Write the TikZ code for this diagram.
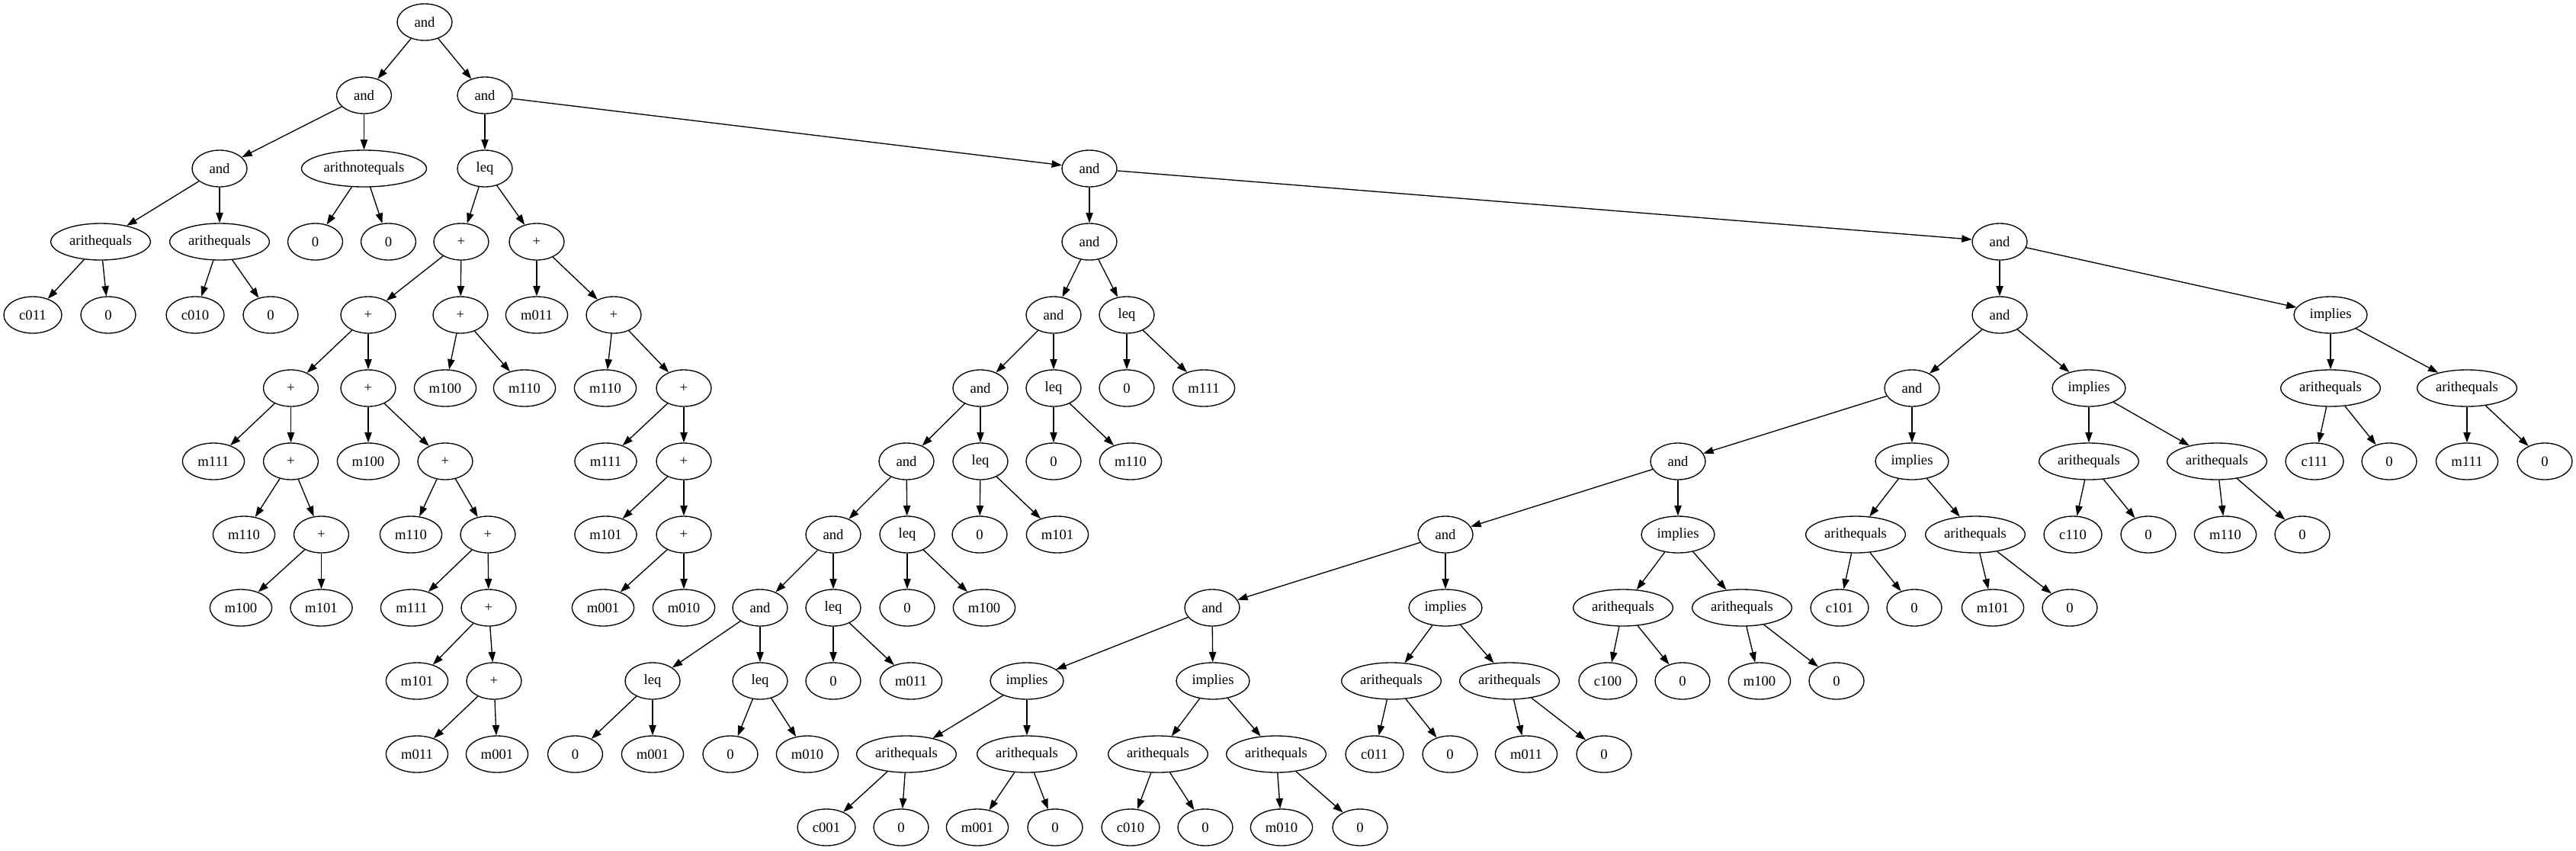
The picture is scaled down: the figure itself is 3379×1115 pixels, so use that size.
\documentclass[tikz,border=0pt]{standalone}
\usepackage{fontspec}
\setmainfont{Liberation Serif}
\usetikzlibrary{shapes.geometric,arrows.meta}
\tikzset{
  base/.style={ellipse, draw, line width=1pt, inner sep=0pt, minimum height=36pt, minimum width=54pt, font=\fontsize{14}{16}\selectfont},
  mv/.style={base, minimum width=61pt},
  cv/.style={base, minimum width=57pt},
  imp/.style={base, minimum width=72pt},
  aeq/.style={base, minimum width=98pt},
  aneq/.style={base, minimum width=123pt},
  edge/.style={line width=1pt, -{Triangle[length=10pt,width=7pt]}}
}
\begin{document}
\begin{tikzpicture}[x=0.75pt,y=-0.75pt]
\useasboundingbox (0,0) rectangle (3379,1115);
% rank 0
\node[base] (root) at (557,29) {and};
% rank 1
\node[base] (a1) at (477.5,125) {and};
\node[base] (a2) at (636,125) {and};
% rank 2
\node[base] (a3) at (288,221) {and};
\node[aneq] (n1) at (477.5,221) {arithnotequals};
\node[base] (l1) at (636,221) {leq};
\node[base] (a4) at (1429,221) {and};
% rank 3
\node[aeq] (e1) at (132,317) {arithequals};
\node[aeq] (e2) at (288,317) {arithequals};
\node[base] (z1) at (413.5,317) {0};
\node[base] (z2) at (509.5,317) {0};
\node[base] (p1) at (605,317) {+};
\node[base] (p2) at (704,317) {+};
\node[base] (a5) at (1429,317) {and};
\node[base] (a6) at (2623,317) {and};
% rank 4
\node[cv] (c1) at (43,413) {c011};
\node[base] (z3) at (142,413) {0};
\node[cv] (c2) at (256,413) {c010};
\node[base] (z4) at (355,413) {0};
\node[base] (p3) at (483,413) {+};
\node[base] (p4) at (604,413) {+};
\node[mv] (m1) at (704,413) {m011};
\node[base] (p5) at (805,413) {+};
\node[base] (a7) at (1382,413) {and};
\node[base] (l2) at (1478,413) {leq};
\node[base] (a8) at (2623,413) {and};
\node[imp] (i1) at (3057,413) {implies};
% rank 5
\node[base] (p6) at (381.5,509) {+};
\node[base] (p7) at (483,509) {+};
\node[mv] (m2) at (584,509) {m100};
\node[mv] (m3) at (688,509) {m110};
\node[mv] (m4) at (794,509) {m110};
\node[base] (p8) at (897,509) {+};
\node[base] (a9) at (1286,509) {and};
\node[base] (l3) at (1382,509) {leq};
\node[base] (z5) at (1478,509) {0};
\node[mv] (m5) at (1579,509) {m111};
\node[base] (a10) at (2508,509) {and};
\node[imp] (i2) at (2740,509) {implies};
\node[aeq] (e3) at (3057,509) {arithequals};
\node[aeq] (e4) at (3236,509) {arithequals};
% rank 6
\node[mv] (m6) at (280,605) {m111};
\node[base] (p9) at (381.5,605) {+};
\node[mv] (m7) at (483,605) {m100};
\node[base] (p10) at (584,605) {+};
\node[mv] (m8) at (794.5,605) {m111};
\node[base] (p11) at (897,605) {+};
\node[base] (a11) at (1189,605) {and};
\node[base] (l4) at (1286,605) {leq};
\node[base] (z6) at (1382,605) {0};
\node[mv] (m9) at (1483,605) {m110};
\node[base] (a12) at (2201,605) {and};
\node[imp] (i3) at (2508,605) {implies};
\node[aeq] (e5) at (2740,605) {arithequals};
\node[aeq] (e6) at (2908,605) {arithequals};
\node[cv] (c3) at (3036,605) {c111};
\node[base] (z7) at (3134,605) {0};
\node[mv] (m10) at (3236,605) {m111};
\node[base] (z8) at (3338,605) {0};
% rank 7
\node[mv] (m11) at (320,701) {m110};
\node[base] (p12) at (421.5,701) {+};
\node[mv] (m12) at (539,701) {m110};
\node[base] (p13) at (640,701) {+};
\node[mv] (m13) at (794.5,701) {m101};
\node[base] (p14) at (897,701) {+};
\node[base] (a13) at (1093,701) {and};
\node[base] (l5) at (1190,701) {leq};
\node[base] (z9) at (1285,701) {0};
\node[mv] (m14) at (1387,701) {m101};
\node[base] (a14) at (1896,701) {and};
\node[imp] (i4) at (2201,701) {implies};
\node[aeq] (e7) at (2434,701) {arithequals};
\node[aeq] (e8) at (2591,701) {arithequals};
\node[cv] (c4) at (2719,701) {c110};
\node[base] (z10) at (2818,701) {0};
\node[mv] (m15) at (2919,701) {m110};
\node[base] (z11) at (3020,701) {0};
% rank 8
\node[mv] (m16) at (316,797) {m100};
\node[mv] (m17) at (421.5,797) {m101};
\node[mv] (m18) at (540,797) {m111};
\node[base] (p15) at (641,797) {+};
\node[mv] (m19) at (791,797) {m001};
\node[mv] (m20) at (897,797) {m010};
\node[base] (a15) at (997,797) {and};
\node[base] (l6) at (1093,797) {leq};
\node[base] (z12) at (1190,797) {0};
\node[mv] (m21) at (1291,797) {m100};
\node[base] (a16) at (1590,797) {and};
\node[imp] (i5) at (1896,797) {implies};
\node[aeq] (e9) at (2129,797) {arithequals};
\node[aeq] (e10) at (2285,797) {arithequals};
\node[cv] (c5) at (2413,797) {c101};
\node[base] (z13) at (2511,797) {0};
\node[mv] (m22) at (2614,797) {m101};
\node[base] (z14) at (2715,797) {0};
% rank 9
\node[mv] (m23) at (547,893) {m101};
\node[base] (p16) at (648,893) {+};
\node[base] (l7) at (856,893) {leq};
\node[base] (l8) at (997,893) {leq};
\node[base] (z15) at (1093,893) {0};
\node[mv] (m24) at (1195,893) {m011};
\node[imp] (i6) at (1347,893) {implies};
\node[imp] (i7) at (1591,893) {implies};
\node[aeq] (e11) at (1825,893) {arithequals};
\node[aeq] (e12) at (1980,893) {arithequals};
\node[cv] (c6) at (2109,893) {c100};
\node[base] (z16) at (2207,893) {0};
\node[mv] (m25) at (2308,893) {m100};
\node[base] (z17) at (2409,893) {0};
% rank 10
\node[mv] (m26) at (547,989) {m011};
\node[mv] (m27) at (652,989) {m001};
\node[base] (z18) at (754.5,989) {0};
\node[mv] (m28) at (856,989) {m001};
\node[base] (z19) at (958,989) {0};
\node[mv] (m29) at (1059,989) {m010};
\node[aeq] (e13) at (1189,989) {arithequals};
\node[aeq] (e14) at (1347,989) {arithequals};
\node[aeq] (e15) at (1519,989) {arithequals};
\node[aeq] (e16) at (1674,989) {arithequals};
\node[cv] (c7) at (1803,989) {c011};
\node[base] (z20) at (1902,989) {0};
\node[mv] (m30) at (2002,989) {m011};
\node[base] (z21) at (2104,989) {0};
% rank 11
\node[cv] (c8) at (1084,1085) {c001};
\node[base] (z22) at (1182,1085) {0};
\node[mv] (m31) at (1282,1085) {m001};
\node[base] (z23) at (1384,1085) {0};
\node[cv] (c9) at (1483,1085) {c010};
\node[base] (z24) at (1581,1085) {0};
\node[mv] (m32) at (1681,1085) {m010};
\node[base] (z25) at (1784,1085) {0};
% edges
\foreach \s/\t in {root/a1, root/a2, a1/a3, a1/n1, a2/l1, a2/a4,
  a3/e1, a3/e2, n1/z1, n1/z2, l1/p1, l1/p2, a4/a5, a4/a6,
  e1/c1, e1/z3, e2/c2, e2/z4, p1/p3, p1/p4, p2/m1, p2/p5, a5/a7, a5/l2, a6/a8, a6/i1,
  p3/p6, p3/p7, p4/m2, p4/m3, p5/m4, p5/p8, a7/a9, a7/l3, l2/z5, l2/m5, a8/a10, a8/i2, i1/e3, i1/e4,
  p6/m6, p6/p9, p7/m7, p7/p10, p8/m8, p8/p11, a9/a11, a9/l4, l3/z6, l3/m9, a10/a12, a10/i3, i2/e5, i2/e6, e3/c3, e3/z7, e4/m10, e4/z8,
  p9/m11, p9/p12, p10/m12, p10/p13, p11/m13, p11/p14, a11/a13, a11/l5, l4/z9, l4/m14, a12/a14, a12/i4, i3/e7, i3/e8, e5/c4, e5/z10, e6/m15, e6/z11,
  p12/m16, p12/m17, p13/m18, p13/p15, p14/m19, p14/m20, a13/a15, a13/l6, l5/z12, l5/m21, a14/a16, a14/i5, i4/e9, i4/e10, e7/c5, e7/z13, e8/m22, e8/z14,
  p15/m23, p15/p16, a15/l7, a15/l8, l6/z15, l6/m24, a16/i6, a16/i7, i5/e11, i5/e12, e9/c6, e9/z16, e10/m25, e10/z17,
  p16/m26, p16/m27, l7/z18, l7/m28, l8/z19, l8/m29, i6/e13, i6/e14, i7/e15, i7/e16, e11/c7, e11/z20, e12/m30, e12/z21,
  e13/c8, e13/z22, e14/m31, e14/z23, e15/c9, e15/z24, e16/m32, e16/z25}
  \draw[edge] (\s) -- (\t);
\end{tikzpicture}
\end{document}
